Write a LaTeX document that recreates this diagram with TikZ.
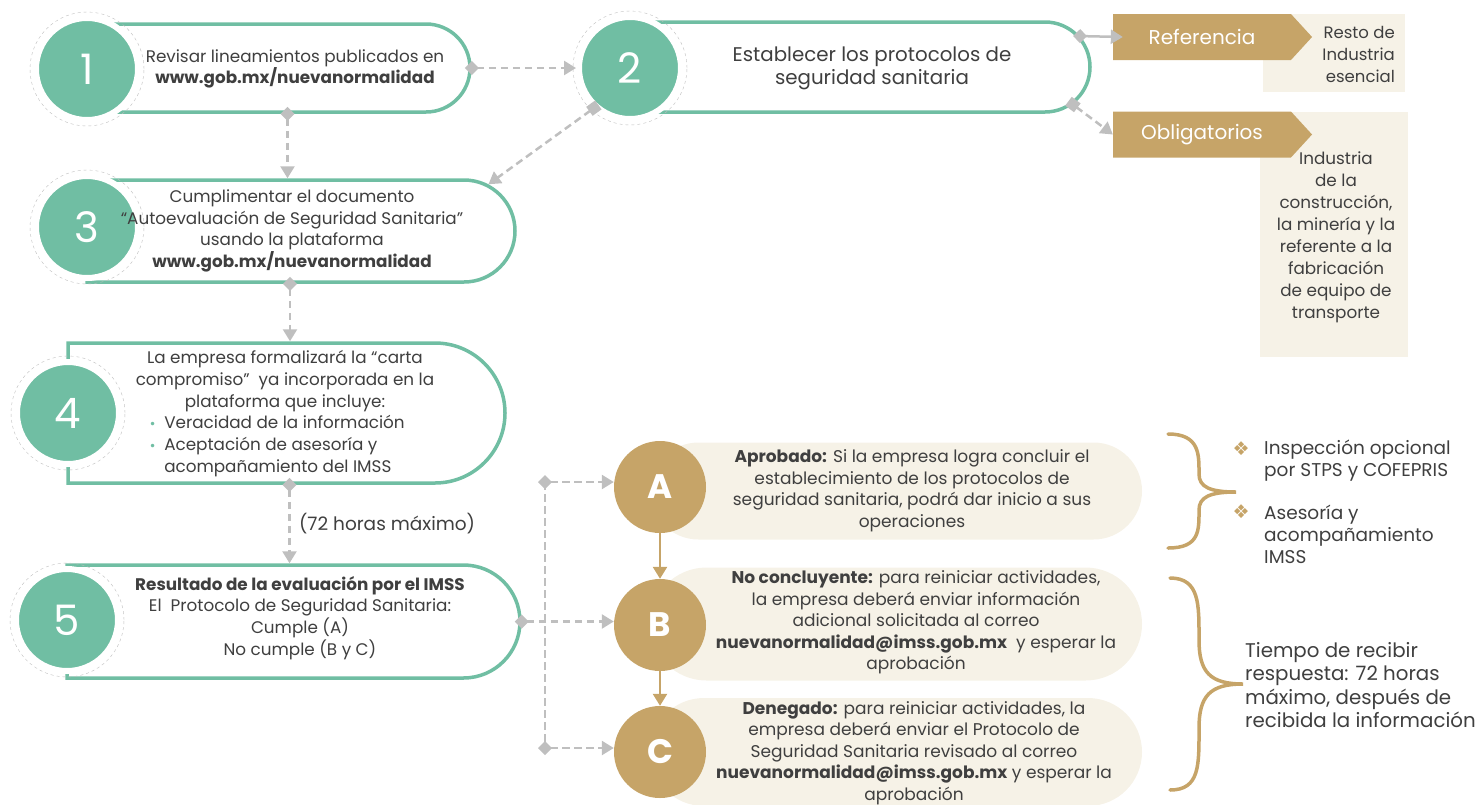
\documentclass[tikz,border=0pt]{standalone}
\usepackage{fontspec}
\setmainfont{Poppins}
\newfontfamily\simbolos{DejaVu Sans}
\usetikzlibrary{arrows.meta,shapes.misc,shapes.symbols,positioning}
\definecolor{verde}{HTML}{70BEA3}
\definecolor{oro}{HTML}{C6A468}
\definecolor{crema}{HTML}{F6F2E7}
\definecolor{gris}{HTML}{BFBFBF}
\definecolor{texto}{HTML}{3F3F3F}
\newcommand{\cuerpo}{\fontsize{16.8}{21.7}\selectfont}
\newcommand{\chico}{\fontsize{17}{21.5}\selectfont}
\newcommand{\vineta}{\textcolor{verde}{\simbolos\fontsize{12}{12}\selectfont •}}
\tikzset{
  paso/.style={rounded rectangle, rounded rectangle left arc=none, draw=verde,
    line width=3.5pt, fill=white, inner sep=0pt},
  anillo/.style={circle, draw=gris, dashed, thin, minimum size=114, inner sep=0pt},
  numero/.style={circle, fill=verde, draw=white, line width=6pt, minimum size=102,
    inner sep=0pt, text=white, font=\fontsize{42}{42}\selectfont},
  letra/.style={circle, fill=oro, minimum size=92, inner sep=0pt, text=white,
    font=\fontsize{34}{34}\selectfont\bfseries},
  resultado/.style={rounded rectangle, fill=crema, inner sep=0pt},
  fondo/.style={rectangle, fill=crema, inner sep=0pt},
  senal/.style={signal, signal to=east, signal pointer angle=95, fill=oro, inner sep=0pt,
    minimum width=199, minimum height=46, text=white, font=\fontsize{20}{20}\selectfont},
  leyenda/.style={text=texto, align=center, font=\cuerpo, inner sep=0pt},
  conector/.style={draw=gris, line width=2.5pt, dash pattern=on 7.5pt off 4.5pt},
  flecha/.style={draw=oro, line width=2.5pt, -{Triangle[length=12pt,width=14pt]}},
  llave/.style={draw=oro, line width=3.5pt, line cap=round}
}
\begin{document}
\begin{tikzpicture}[x=1pt,y=-1pt]
\useasboundingbox (0,0) rectangle (1480,804);

% cuadros de fondo
\node[fondo, minimum width=142, minimum height=78] (f1) at (1334,53) {};
\node[fondo, minimum width=148, minimum height=245] (f2) at (1334,234.5) {};
\node[senal] (ref) at (1202,37) {Referencia\hspace{14pt}};
\node[senal] (obl) at (1202,134.5) {Obligatorios\hspace{14pt}};
\node[leyenda, anchor=east, align=right, font=\fontsize{16.5}{22}\selectfont] (tref) at (1395,54) {Resto de\\Industria\\esencial};
\node[leyenda, font=\fontsize{16.8}{22}\selectfont] (tobl) at (1336,237) {Industria\\de la\\construcción,\\la minería y la\\referente a la\\fabricación\\de equipo de\\transporte};

% pasos
\node[paso, minimum width=383, minimum height=88] (b1) at (278.5,68) {};
\node[anillo] (r1) at (87,69) {};
\node[numero] (c1) at (87,69) {1};
\node[leyenda] (t1) at (295,69) {Revisar lineamientos publicados en\\\textbf{www.gob.mx/nuevanormalidad}};

\node[paso, minimum width=460, minimum height=90] (b2) at (860,67) {};
\node[anillo] (r2) at (630,68) {};
\node[numero] (c2) at (630,68) {2};
\node[leyenda, font=\fontsize{19.8}{23}\selectfont] (t2) at (872,68) {Establecer los protocolos de\\seguridad sanitaria};

\node[paso, minimum width=428, minimum height=102] (b3) at (301,231) {};
\node[anillo] (r3) at (87,227) {};
\node[numero] (c3) at (87,227) {3};
\node[leyenda] (t3) at (292,231) {Cumplimentar el documento\\“Autoevaluación de Seguridad Sanitaria”\\usando la plataforma\\\textbf{www.gob.mx/nuevanormalidad}};

\node[paso, minimum width=437, minimum height=140] (b4) at (286.5,413) {};
\node[anillo] (r4) at (68,413) {};
\node[numero] (c4) at (68,413) {4};
\node[leyenda] (t4) at (285,381) {La empresa formalizará la “carta\\compromiso”\ \ ya incorporada en la\\plataforma que incluye:};
\node[leyenda, anchor=west, align=left] (t4b) at (149,446) {%
  \begin{tabular}{@{}l@{\hspace{8pt}}l@{}}
  \vineta & Veracidad de la información\\
  \vineta & Aceptación de asesoría y\\
   & acompañamiento del IMSS
  \end{tabular}};

\node[paso, minimum width=453, minimum height=113] (b5) at (293.5,621.5) {};
\node[anillo] (r5) at (67,620) {};
\node[numero] (c5) at (67,620) {5};
\node[leyenda] (t5) at (300,618) {\textbf{Resultado de la evaluación por el IMSS}\\El\ \ Protocolo de Seguridad Sanitaria:\\Cumple (A)\\No cumple (B y C)};

% resultados A, B, C
\node[resultado, minimum width=492, minimum height=97] (bA) at (896,491) {};
\node[letra] (cA) at (660,487) {A};
\node[leyenda, font=\chico] (tA) at (912,490.5) {\textbf{Aprobado:} Si la empresa logra concluir el\\establecimiento de los protocolos de\\seguridad sanitaria, podrá dar inicio a sus\\operaciones};

\node[resultado, minimum width=492, minimum height=113] (bB) at (896,624) {};
\node[letra] (cB) at (660,625) {B};
\node[leyenda, font=\chico] (tB) at (916,622.5) {\textbf{No concluyente:} para reiniciar actividades,\\la empresa deberá enviar información\\adicional solicitada al correo\\\textbf{nuevanormalidad@imss.gob.mx}\ \ y esperar la\\aprobación};

\node[resultado, minimum width=492, minimum height=108] (bC) at (896,752) {};
\node[letra] (cC) at (660,752) {C};
\node[leyenda, font=\chico] (tC) at (914,753) {\textbf{Denegado:} para reiniciar actividades, la\\empresa deberá enviar el Protocolo de\\Seguridad Sanitaria revisado al correo\\\textbf{nuevanormalidad@imss.gob.mx} y esperar la\\aprobación};

% conectores
\draw[conector, {Diamond[length=14pt,width=14pt]}-{Triangle[length=12pt,width=14pt]}, shorten <=-7pt] (b1.east) -- (c2.west);
\draw[conector, {Diamond[length=14pt,width=14pt]}-{Triangle[length=12pt,width=14pt]}, shorten <=-7pt] ([xshift=9pt]b1.south) -- ([xshift=9pt]b1.south |- b3.north);
\draw[conector, {Square[length=11pt,width=11pt]}-{Triangle[length=12pt,width=14pt]}, shorten <=-5.5pt] (c2.228) -- (b3.14);
\draw[draw=gris, line width=2.5pt, {Diamond[length=14pt,width=14pt]}-{Triangle[length=12pt,width=14pt]}, shorten <=-7pt] (b2.8) -- ([xshift=10pt]ref.west);
\draw[conector, {Square[length=11pt,width=11pt]}-{Triangle[length=12pt,width=14pt]}, shorten <=-5.5pt] (b2.350) -- (obl.west);
\draw[conector, {Diamond[length=14pt,width=14pt]}-{Triangle[length=12pt,width=14pt]}, shorten <=-7pt] ([xshift=-11pt]b3.south) -- ([xshift=-11pt]b3.south |- b4.north);
\draw[conector, {Diamond[length=14pt,width=14pt]}-{Triangle[length=12pt,width=14pt]}, shorten <=-7pt] ([xshift=3pt]b4.south) -- ([xshift=3pt]b4.south |- b5.north)
  node[midway, right=5pt, text=texto, font=\fontsize{18.5}{18.5}\selectfont] (lbl) {(72 horas máximo)};

\coordinate (jA) at (545,482);
\coordinate (jC) at (545,748);
\draw[conector] (jA) -- (jC);
\draw[conector, {Diamond[length=14pt,width=14pt]}-{Triangle[length=12pt,width=14pt]}, shorten <=-7pt] (b5.east) -- (b5.east -| cB.west);
\draw[conector, {Diamond[length=14pt,width=14pt]}-{Triangle[length=12pt,width=14pt]}, shorten <=-7pt] (jA) -- (jA -| cA.west);
\draw[conector, {Diamond[length=14pt,width=14pt]}-{Triangle[length=12pt,width=14pt]}, shorten <=-7pt] (jC) -- (jC -| cC.west);
\draw[flecha] (cA.south) -- (cB.north);
\draw[flecha] (cB.south) -- (cC.north);

% llaves
\draw[llave] (1168,434) .. controls (1200,434) and (1199,455) .. (1199,474)
  .. controls (1199,487) and (1210,492) .. (1236,492)
  .. controls (1210,492) and (1199,497) .. (1199,510)
  .. controls (1199,530) and (1200,548) .. (1168,548);
\draw[llave] (1170,578) .. controls (1200,578) and (1199,605) .. (1199,640)
  .. controls (1199,672) and (1210,684) .. (1243,684)
  .. controls (1210,684) and (1199,696) .. (1199,728)
  .. controls (1199,765) and (1200,790) .. (1170,790);
\node[text=oro, font=\simbolos\fontsize{19}{19}\selectfont] (d1) at (1241,449) {❖};
\node[text=oro, font=\simbolos\fontsize{19}{19}\selectfont] (d2) at (1241,512) {❖};
\node[leyenda, anchor=west, align=left, font=\fontsize{18.5}{22}\selectfont] (i1) at (1264,461) {Inspección opcional\\por STPS y COFEPRIS};
\node[leyenda, anchor=west, align=left, font=\fontsize{18.5}{22}\selectfont] (i2) at (1264,534) {Asesoría y\\acompañamiento\\IMSS};
\node[leyenda, anchor=west, align=left, font=\fontsize{19.8}{23.5}\selectfont] (i3) at (1245,685) {Tiempo de recibir\\respuesta: 72 horas\\máximo, después de\\recibida la información};
\end{tikzpicture}
\end{document}
